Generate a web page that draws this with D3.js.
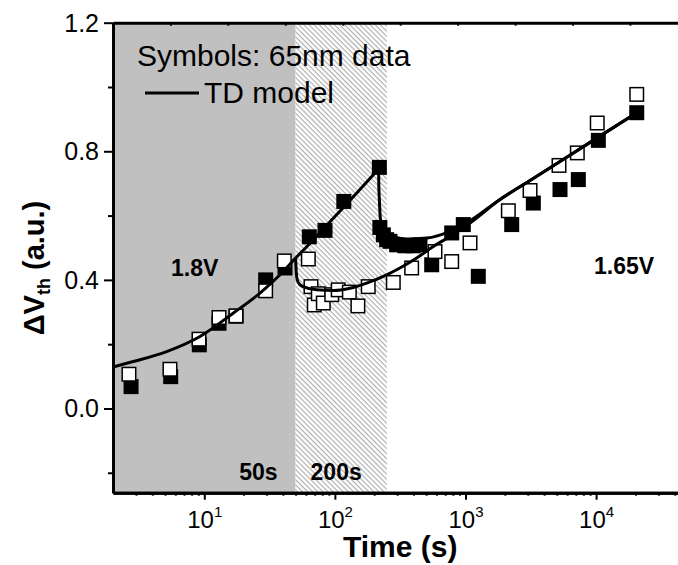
<!DOCTYPE html>
<html>
<head>
<meta charset="utf-8">
<script src="https://d3js.org/d3.v7.min.js"></script>
<style>
  body { margin: 0; background: #fff; }
  text { font-family: "Liberation Sans", Arial, sans-serif; fill: #000; }
</style>
</head>
<body>
<svg width="678" height="565"></svg>
<script>
// 65nm measured data (filled / open squares)
const filledTime = [2.75, 5.53, 9.16, 12.96, 17.5, 29.5, 41.5, 63.7, 84, 117, 219,
  221, 235, 249, 264, 297, 344, 398, 448, 551, 784, 962, 1253, 2258, 3306, 5291, 7310, 10400, 20470];
const filledValue = [0.068, 0.099, 0.198, 0.265, 0.287, 0.400, 0.437, 0.534, 0.554, 0.644, 0.750,
  0.563, 0.540, 0.525, 0.520, 0.509, 0.506, 0.506, 0.509, 0.447, 0.546, 0.572, 0.411, 0.572, 0.639, 0.681, 0.712, 0.834, 0.920];

const openTime = [2.65, 5.46, 9.11, 12.96, 17.5, 29.5, 41, 62.6, 65.6, 69.5, 74.6, 81.5, 94.6, 106, 129, 150, 180,
  280, 387, 584, 784, 1083, 2128, 3120, 5200, 7180, 10200, 20470];
const openValue = [0.1065, 0.122, 0.2156, 0.283, 0.288, 0.366, 0.459, 0.465, 0.379, 0.322, 0.357, 0.328, 0.354, 0.369, 0.362, 0.319, 0.379,
  0.392, 0.437, 0.488, 0.457, 0.515, 0.615, 0.678, 0.756, 0.795, 0.888, 0.977];

// TD model curves
const modelStressTime = [2, 2.86, 5.15, 9.27, 16.7, 26.7, 38, 50];
const modelStressValue = [0.129, 0.146, 0.177, 0.224, 0.297, 0.359, 0.416, 0.468];
const modelHighTime = [50, 70, 100, 150, 216];
const modelHighValue = [0.468, 0.529, 0.597, 0.674, 0.745];
const modelRecHighTime = [216, 217, 219, 222, 228, 264, 355, 505, 761, 1021, 1837, 3119, 10110, 20470];
const modelRecHighValue = [0.745, 0.69, 0.65, 0.60, 0.566, 0.540, 0.527, 0.530, 0.551, 0.577, 0.650, 0.709, 0.841, 0.920];
const modelRecLowTime = [50, 50.5, 51.5, 54, 57.3, 72.6, 97.2, 130.5, 175, 235, 315, 423, 567, 761, 1083, 1837, 3119, 10110, 20470];
const modelRecLowValue = [0.468, 0.43, 0.40, 0.385, 0.379, 0.369, 0.367, 0.374, 0.390, 0.411, 0.437, 0.468, 0.504, 0.535, 0.577, 0.650, 0.709, 0.841, 0.920];

// shaded phases
const phaseStart = [2, 50];
const phaseEnd = [50, 250];
const phaseLabels = ['50s', '200s'];

const yMajor = [0, 0.4, 0.8, 1.2];
const yMinor = [-0.2, 0.2, 0.6, 1.0];
const xMajor = [10, 100, 1000, 10000];

const svg = d3.select('svg');
const pLeft = 113, pRight = 687.4, pTop = 22.7, pBottom = 492.7;

const x = d3.scaleLog().domain([2, 5e4]).range([pLeft, pRight]);
const y = d3.scaleLinear().domain([-0.262, 1.2]).range([pBottom, pTop]);

svg.append('defs').html(`
  <pattern id="hatch" patternUnits="userSpaceOnUse" width="3.6" height="3.6" patternTransform="rotate(45)">
    <rect width="3.6" height="3.6" fill="#fff"></rect>
    <line x1="0" y1="0.6" x2="3.6" y2="0.6" stroke="#a9a9a9" stroke-width="1.1"></line>
  </pattern>
  <clipPath id="plot"><rect x="${pLeft}" y="${pTop}" width="${pRight - pLeft}" height="${pBottom - pTop}"></rect></clipPath>`);

// phase backgrounds
svg.append('rect')
  .attr('x', x(phaseStart[0])).attr('y', pTop)
  .attr('width', x(phaseEnd[0]) - x(phaseStart[0])).attr('height', pBottom - pTop)
  .attr('fill', '#c0c0c0');
svg.append('rect')
  .attr('x', x(phaseStart[1])).attr('y', pTop)
  .attr('width', x(phaseEnd[1]) - x(phaseStart[1])).attr('height', pBottom - pTop)
  .attr('fill', 'url(#hatch)');

const plot = svg.append('g').attr('clip-path', 'url(#plot)');

// squares
const sq = 15;
plot.selectAll('rect.filled')
  .data(filledTime.map((t, i) => [t, filledValue[i]]))
  .join('rect')
  .attr('class', 'filled')
  .attr('x', d => x(d[0]) - sq / 2).attr('y', d => y(d[1]) - sq / 2)
  .attr('width', sq).attr('height', sq)
  .attr('fill', '#000');

plot.selectAll('rect.open')
  .data(openTime.map((t, i) => [t, openValue[i]]))
  .join('rect')
  .attr('class', 'open')
  .attr('x', d => x(d[0]) - (sq - 1.5) / 2).attr('y', d => y(d[1]) - (sq - 1.5) / 2)
  .attr('width', sq - 1.5).attr('height', sq - 1.5)
  .attr('fill', '#fff').attr('stroke', '#000').attr('stroke-width', 1.5);

// model lines
const line = d3.line().x(d => x(d[0])).y(d => y(d[1])).curve(d3.curveMonotoneX);
[[modelStressTime, modelStressValue], [modelHighTime, modelHighValue],
 [modelRecHighTime, modelRecHighValue], [modelRecLowTime, modelRecLowValue]].forEach(([ts, vs]) => {
  plot.append('path')
    .datum(ts.map((t, i) => [t, vs[i]]))
    .attr('d', line)
    .attr('fill', 'none').attr('stroke', '#000').attr('stroke-width', 3);
});

// axes
const styleAxis = (g, w) => {
  g.select('.domain').attr('stroke', '#000').attr('stroke-width', w);
  g.selectAll('.tick line').attr('stroke', '#000').attr('stroke-width', 2);
};

const xMinor = xMajor.flatMap(d => d3.range(2, 10).map(k => k * d / 10))
  .concat([20000, 30000, 40000]).filter(v => v > 2);
svg.append('g')
  .attr('transform', `translate(0,${pBottom})`)
  .call(d3.axisBottom(x).tickValues(xMinor).tickSize(3).tickSizeOuter(0).tickFormat(''))
  .call(g => styleAxis(g, 3));

const xg = svg.append('g')
  .attr('transform', `translate(0,${pBottom})`)
  .call(d3.axisBottom(x).tickValues(xMajor).tickSize(7).tickSizeOuter(0).tickFormat(''))
  .call(g => styleAxis(g, 3));

xg.selectAll('.tick').append('text')
  .attr('y', 35)
  .attr('text-anchor', 'middle')
  .attr('font-size', 24)
  .each(function(d) {
    const t = d3.select(this);
    t.append('tspan').text('10');
    t.append('tspan').attr('font-size', 15).attr('dy', -11).text(Math.round(Math.log10(d)));
  });

// top border with evenly spaced ticks
const xTop = d3.scaleLinear().domain([0, 10]).range([pLeft, pRight]);
svg.append('g')
  .attr('transform', `translate(0,${pTop})`)
  .call(d3.axisTop(xTop).ticks(10).tickSize(-3).tickSizeOuter(0).tickFormat(''))
  .call(g => styleAxis(g, 3));

svg.append('g')
  .attr('transform', `translate(${pLeft},0)`)
  .call(d3.axisLeft(y).tickValues(yMinor).tickSize(5).tickSizeOuter(0).tickFormat(''))
  .call(g => styleAxis(g, 3));

svg.append('g')
  .attr('transform', `translate(${pLeft},0)`)
  .call(d3.axisLeft(y).tickValues(yMajor).tickSize(9).tickSizeOuter(0).tickPadding(5).tickFormat(d3.format('.1f')))
  .call(g => styleAxis(g, 3))
  .call(g => g.selectAll('.tick text').attr('font-size', 25).attr('dy', '0.34em'));

// axis titles
svg.append('text')
  .attr('x', (pLeft + pRight) / 2).attr('y', 557)
  .attr('text-anchor', 'middle').attr('font-size', 30).attr('font-weight', 'bold')
  .text('Time (s)');

const yt = svg.append('text')
  .attr('transform', 'translate(44,268) rotate(-90)')
  .attr('text-anchor', 'middle').attr('font-size', 29).attr('font-weight', 'bold');
yt.append('tspan').text('ΔV');
yt.append('tspan').attr('font-size', 18).attr('dy', 6).text('th');
yt.append('tspan').attr('dy', -6).text(' (a.u.)');

// legend
svg.append('text').attr('x', 137).attr('y', 66).attr('font-size', 30).text('Symbols: 65nm data');
svg.append('line').attr('x1', 145).attr('x2', 199).attr('y1', 93).attr('y2', 93)
  .attr('stroke', '#000').attr('stroke-width', 3);
svg.append('text').attr('x', 204).attr('y', 103).attr('font-size', 30).text('TD model');

// annotations
svg.append('text').attr('x', 171).attr('y', 276).attr('font-size', 23).attr('font-weight', 'bold').text('1.8V');
svg.append('text').attr('x', 594).attr('y', 274).attr('font-size', 23).attr('font-weight', 'bold').text('1.65V');
svg.append('text').attr('x', x(phaseEnd[0]) - 18).attr('y', 480).attr('text-anchor', 'end')
  .attr('font-size', 23).attr('font-weight', 'bold').text(phaseLabels[0]);
svg.append('text').attr('x', x(phaseStart[1]) + 15).attr('y', 480)
  .attr('font-size', 23).attr('font-weight', 'bold').text(phaseLabels[1]);
</script>
</body>
</html>
